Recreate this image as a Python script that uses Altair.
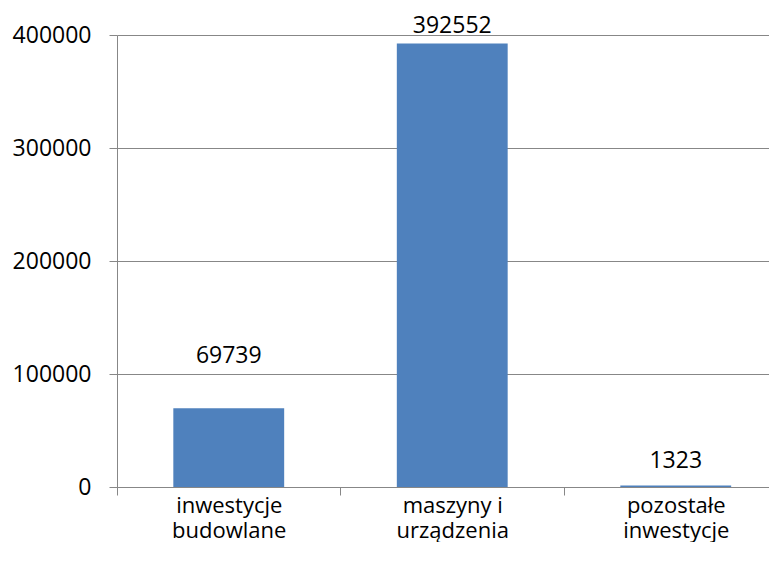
import json
import altair as alt
import pandas as pd

# --- data ---
category_lines = [["inwestycje", "budowlane"], ["maszyny i", "urządzenia"], ["pozostałe", "inwestycje"]]
categories = [" ".join(c) for c in category_lines]
positions = [0, 1, 2]
values = [69739, 392552, 1323]
y_ticks = [0, 100000, 200000, 300000, 400000]
x_ticks = [-0.5, 0, 0.5, 1, 1.5, 2]

df = pd.DataFrame({"kategoria": categories, "poz": positions, "wartosc": values})

FONT = "Open Sans"
GRAY = "#878787"
BLUE = "#4F81BD"

PLOT_W = 652
STEP = 223.5  # px per category band in the reference
x_domain = [-0.5, -0.5 + PLOT_W / STEP]
half_bar = 0.248

# label vertical offsets (styling, as placed in the reference)
label_dy = {categories[0]: -45, categories[1]: -10, categories[2]: -18}

label_expr = (
    "datum.value % 1 === 0 ? "
    + json.dumps(category_lines, ensure_ascii=False)
    + "[datum.value] : ''"
)

x_axis = alt.Axis(
    title=None,
    values=x_ticks,
    labelAngle=0,
    labelExpr=label_expr,
    labelFont=FONT,
    labelFontSize=22,
    labelColor="black",
    labelLineHeight=25,
    labelBaseline="alphabetic",
    labelPadding=17,
    labelFlush=False,
    labelOverlap=False,
    tickSize=8,
    tickColor=GRAY,
    tickOpacity={"condition": {"test": "datum.value % 1 === 0", "value": 0}, "value": 1},
    domainColor=GRAY,
    grid=False,
)

x_scale = alt.Scale(domain=x_domain, nice=False, zero=False, padding=0)

y_enc = alt.Y(
    "wartosc:Q",
    scale=alt.Scale(domain=[0, 400000], nice=False, padding=0),
    axis=alt.Axis(
        title=None,
        values=y_ticks,
        format="d",
        labelFont=FONT,
        labelFontSize=23,
        labelColor="black",
        labelPadding=18,
        tickSize=8,
        tickColor=GRAY,
        domainColor=GRAY,
        grid=True,
        gridColor=GRAY,
        gridOpacity=1,
    ),
)

base = alt.Chart(df)

bars = (
    base.transform_calculate(x0=f"datum.poz - {half_bar}", x1=f"datum.poz + {half_bar}")
    .mark_bar(color=BLUE, orient="vertical")
    .encode(
        x=alt.X("x0:Q", scale=x_scale, axis=x_axis),
        x2="x1:Q",
        y=y_enc,
        y2=alt.datum(0),
    )
)

label_layers = []
for cat in categories:
    label_layers.append(
        base.transform_filter(alt.datum.kategoria == cat)
        .mark_text(font=FONT, fontSize=23, color="black", baseline="alphabetic", align="center", dy=label_dy[cat])
        .encode(
            x=alt.X("poz:Q", scale=x_scale),
            y="wartosc:Q",
            text=alt.Text("wartosc:Q", format="d"),
        )
    )

chart = (
    alt.layer(bars, *label_layers)
    .properties(
        width=PLOT_W,
        height=452,
        autosize=alt.AutoSizeParams(type="none"),
        padding={"left": 109, "top": 27, "right": 0, "bottom": 55},
    )
    .configure_view(stroke=None)
)

chart.save("out.html", embed_options={"renderer": "svg", "actions": False})
